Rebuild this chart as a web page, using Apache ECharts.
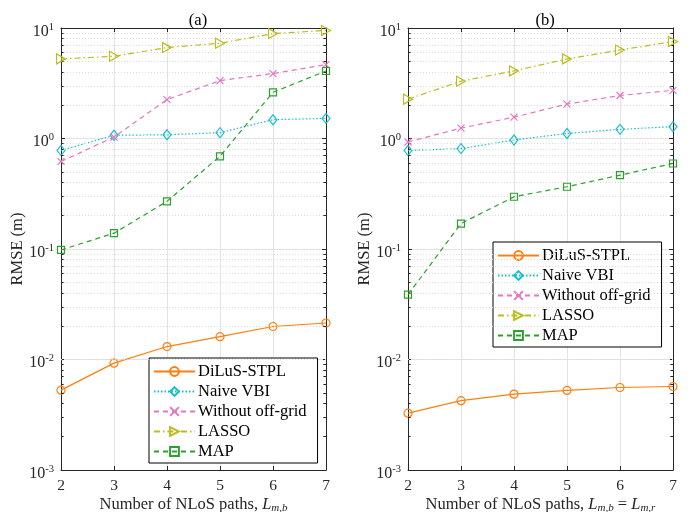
<!DOCTYPE html>
<html>
<head>
<meta charset="utf-8">
<script src="https://cdn.jsdelivr.net/npm/echarts@6/dist/echarts.min.js"></script>
<style>
html,body{margin:0;padding:0;background:#fff;}
#chart{width:691px;height:512px;}
</style>
</head>
<body>
<div id="chart"></div>
<script>
// ---- data ----
const xValues = [2, 3, 4, 5, 6, 7];
const seriesNames = ['DiLuS-STPL', 'Naive VBI', 'Without off-grid', 'LASSO', 'MAP'];
// panel (a)
const aDiLuS   = [0.00528, 0.00927, 0.0131, 0.0161, 0.0199, 0.0214];
const aNaive   = [0.78, 1.07, 1.08, 1.13, 1.48, 1.52];
const aWithout = [0.62, 1.03, 2.25, 3.34, 3.87, 4.66];
const aLasso   = [5.25, 5.55, 6.65, 7.28, 8.9, 9.5];
const aMap     = [0.098, 0.139, 0.27, 0.69, 2.62, 4.08];
// panel (b)
const bDiLuS   = [0.00327, 0.00424, 0.00486, 0.00525, 0.00558, 0.0057];
const bNaive   = [0.78, 0.81, 0.97, 1.11, 1.21, 1.28];
const bWithout = [0.93, 1.24, 1.56, 2.05, 2.45, 2.73];
const bLasso   = [2.27, 3.3, 4.09, 5.25, 6.32, 7.54];
const bMap     = [0.0386, 0.17, 0.297, 0.366, 0.466, 0.594];
// axes
const yMin = 0.001, yMax = 10;
const xMin = 2, xMax = 7;
const minorGridValues = [
  0.002,0.003,0.004,0.005,0.006,0.007,0.008,0.009,
  0.02,0.03,0.04,0.05,0.06,0.07,0.08,0.09,
  0.2,0.3,0.4,0.5,0.6,0.7,0.8,0.9,
  2,3,4,5,6,7,8,9
];
const panelTitles = ['(a)', '(b)'];

// ---- styles ----
const FONT = 'Liberation Serif';
const AX = '#262626';
const colors = ['#ff7f0e', '#17becf', '#e377c2', '#bcbd22', '#2ca02c'];
const lineTypes = ['solid', [1.5, 2], [5, 4], [6, 3, 1.5, 3], [5, 4]];
const symbols = [
  'circle',
  'diamond',
  'path://M0,0L10,10M0,10L10,0',
  'path://M0,0L10,5L0,10Z',
  'rect'
];
const symbolSizes = [8, [8, 10], 7, [9, 10], 7];

const panels = [
  [aDiLuS, aNaive, aWithout, aLasso, aMap],
  [bDiLuS, bNaive, bWithout, bLasso, bMap]
];

const gridBoxes = [
  {left: 61, right: 365, top: 28, bottom: 42, outerBoundsMode: 'none', containLabel: false},
  {left: 408, right: 18, top: 28, bottom: 42, outerBoundsMode: 'none', containLabel: false}
];

function supLabel(v) {
  const e = Math.round(Math.log10(v));
  return '{b|10}{s|' + e + '}';
}
const labelRich = {
  b: {fontFamily: FONT, fontSize: 16, color: AX, padding: [7, 0, 0, 0]},
  s: {fontFamily: FONT, fontSize: 10.5, color: AX, padding: [0, 0, 2, 0]}
};

const xAxes = [], yAxes = [], series = [];
const xNames = [
  'Number of NLoS paths, {i|L}{sub|m,b}',
  'Number of NLoS paths, {i|L}{sub|m,b} = {i|L}{sub|m,r}'
];

panels.forEach((panel, p) => {
  xAxes.push({
    gridIndex: p, type: 'value', min: xMin, max: xMax, interval: 1,
    axisLine: {onZero: false, lineStyle: {color: AX, width: 1}},
    axisTick: {inside: true, length: 4, lineStyle: {color: AX}},
    axisLabel: {fontFamily: FONT, fontSize: 15.5, color: AX, margin: 8},
    splitLine: {show: true, lineStyle: {color: '#e3e3e3', width: 1}},
    name: xNames[p], nameLocation: 'middle', nameGap: 25, nameMoveOverlap: false,
    nameTextStyle: {
      fontFamily: FONT, fontSize: 16.5, color: AX,
      rich: {
        i: {fontFamily: FONT, fontSize: 16.5, fontStyle: 'italic', color: AX},
        sub: {fontFamily: FONT, fontSize: 11, fontStyle: 'italic', color: AX, padding: [8, 0, 0, 0]}
      }
    }
  });
  xAxes.push({
    gridIndex: p, type: 'value', position: 'top', min: xMin, max: xMax, interval: 1,
    axisLine: {onZero: false, lineStyle: {color: AX, width: 1}},
    axisTick: {inside: true, length: 4, lineStyle: {color: AX}},
    axisLabel: {show: false}, splitLine: {show: false}
  });
  yAxes.push({
    gridIndex: p, type: 'log', logBase: 10, min: yMin, max: yMax,
    axisLine: {show: true, onZero: false, lineStyle: {color: AX, width: 1}},
    axisTick: {show: true, inside: true, length: 4, lineStyle: {color: AX}},
    axisLabel: {formatter: supLabel, rich: labelRich, margin: 7},
    splitLine: {show: true, lineStyle: {color: '#e3e3e3', width: 1}},
    name: 'RMSE (m)', nameLocation: 'middle', nameGap: 35, nameMoveOverlap: false,
    nameTextStyle: {fontFamily: FONT, fontSize: 16.5, color: AX}
  });
  yAxes.push({
    gridIndex: p, type: 'log', logBase: 10, min: yMin, max: yMax, position: 'right',
    axisLine: {show: true, onZero: false, lineStyle: {color: AX, width: 1}},
    axisTick: {show: true, inside: true, length: 4, lineStyle: {color: AX}},
    axisLabel: {show: false}, splitLine: {show: false}
  });

  panel.forEach((vals, k) => {
    const s = {
      name: seriesNames[k], type: 'line',
      xAxisIndex: p * 2, yAxisIndex: p * 2,
      data: xValues.map((x, i) => [x, vals[i]]),
      symbol: symbols[k], symbolSize: symbolSizes[k],
      showAllSymbol: true,
      lineStyle: {color: colors[k], width: 1.2, type: lineTypes[k]},
      itemStyle: {color: 'rgba(255,255,255,0)', borderColor: colors[k], borderWidth: 1.2},
      emphasis: {disabled: true},
      animation: false, z: 3 + k
    };
    if (k === 0) {
      const md = minorGridValues.map(v => ({yAxis: v}));
      const ticks = [];
      minorGridValues.forEach(v => {
        ticks.push([{coord: [xMin, v]}, {coord: [xMin + 0.05, v]}]);
        ticks.push([{coord: [xMax - 0.05, v]}, {coord: [xMax, v]}]);
      });
      s.markLine = {
        silent: true, symbol: 'none', animation: false,
        label: {show: false},
        lineStyle: {color: '#dcdcdc', type: [1, 2], width: 1},
        emphasis: {disabled: true},
        data: md.concat(ticks.map(t => [
          Object.assign({lineStyle: {color: AX, type: 'solid', width: 1}}, t[0]), t[1]
        ]))
      };
    }
    series.push(s);
  });
});

const legendBase = {
  orient: 'vertical', data: seriesNames,
  backgroundColor: '#fff', borderColor: '#000', borderWidth: 1, borderRadius: 0,
  padding: [5, 11, 3, 4], itemWidth: 41, itemHeight: 11, itemGap: 3,
  selectedMode: false,
  textStyle: {fontFamily: FONT, fontSize: 16.5, color: '#000', padding: [0, 0, 0, -2]}
};

const option = {
  backgroundColor: '#fff',
  animation: false,
  title: panelTitles.map((t, p) => ({
    text: t, left: p === 0 ? 193 : 540, top: 7, textAlign: 'center',
    textStyle: {fontFamily: FONT, fontSize: 16.5, fontWeight: 'normal', color: '#000'}
  })),
  grid: gridBoxes,
  xAxis: xAxes,
  yAxis: yAxes,
  legend: [
    Object.assign({left: 149, top: 358}, legendBase),
    Object.assign({left: 493, top: 242}, legendBase)
  ],
  series: series
};

const chart = echarts.init(document.getElementById('chart'), null, {renderer: 'canvas'});
chart.setOption(option);
</script>
</body>
</html>
